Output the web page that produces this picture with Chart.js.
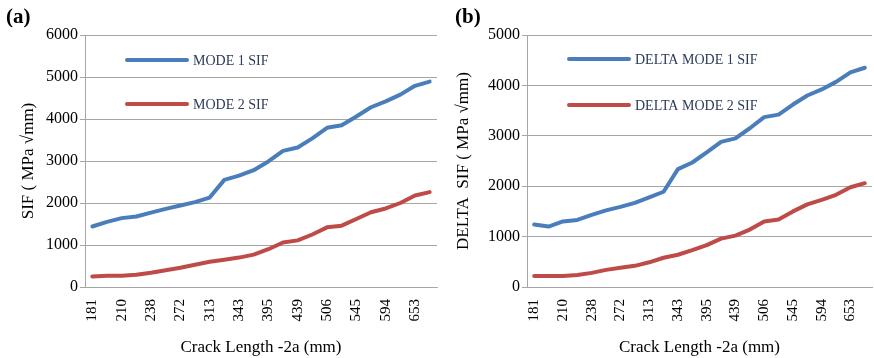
<!DOCTYPE html>
<html>
<head>
<meta charset="utf-8">
<script src="https://cdn.jsdelivr.net/npm/chart.js@4.4.1/dist/chart.umd.min.js"></script>
<style>
	html, body { margin: 0; padding: 0; background: #fff; }
	#wrap { position: relative; width: 874px; height: 358px; overflow: hidden; }
	.panel { position: absolute; top: 0; height: 358px; }
	.tag { position: absolute; top: 4px; font: bold 21px "Liberation Serif", serif; color: #000; }
</style>
</head>
<body>
<div id="wrap">
	<div class="panel" style="left:0;width:445px"><canvas id="chartA" width="445" height="358"></canvas></div>
	<div class="panel" style="left:445px;width:429px"><canvas id="chartB" width="429" height="358"></canvas></div>
	<div class="tag" style="left:6px">(a)</div>
	<div class="tag" style="left:455px">(b)</div>
</div>
<script>
(() => {
	'use strict'

	// Crack length labels (every other step is labelled on the axis)
	const tickLabels = ['181', '210', '238', '272', '313', '343', '395', '439', '506', '545', '594', '653'];

	// Stress intensity factors, MPa sqrt(mm)
	const mode1Sif = [1440, 1550, 1640, 1680, 1770, 1860, 1940, 2020, 2130, 2550, 2650, 2780,
		2990, 3240, 3320, 3540, 3790, 3850, 4060, 4280, 4420, 4580, 4790, 4890];
	const mode2Sif = [250, 270, 270, 290, 340, 400, 460, 530, 600, 650, 700, 770,
		900, 1060, 1110, 1250, 1420, 1460, 1620, 1780, 1870, 2000, 2180, 2260];

	const deltaMode1Sif = [1240, 1200, 1300, 1330, 1430, 1520, 1590, 1670, 1780, 1890, 2340, 2470,
		2670, 2880, 2950, 3150, 3370, 3420, 3620, 3800, 3920, 4070, 4260, 4350];
	const deltaMode2Sif = [220, 220, 220, 240, 280, 340, 380, 420, 490, 580, 640, 730,
		830, 960, 1020, 1140, 1300, 1340, 1500, 1640, 1730, 1830, 1980, 2060];

	// 24 steps, label on every second one
	const categories = [];
	tickLabels.forEach(l => { categories.push(l, ''); });

	const blue = '#4a7ebb';
	const red = '#be4b48';
	const gridColor = '#a6a6a6';
	const serif = '"Liberation Serif", "Times New Roman", serif';

	// Legend drawn inside the plot area, offsets relative to chartArea
	const insetLegend = {
		id: 'insetLegend',
		afterDraw(chart, args, opts) {
			const {ctx, chartArea} = chart;
			ctx.save();
			chart.data.datasets.forEach((ds, i) => {
				const y = chartArea.top + opts.rows[i];
				const x0 = chartArea.left + opts.x;
				ctx.strokeStyle = ds.borderColor;
				ctx.lineWidth = 4;
				ctx.lineCap = 'round';
				ctx.beginPath();
				ctx.moveTo(x0, y);
				ctx.lineTo(x0 + 60, y);
				ctx.stroke();
				ctx.fillStyle = '#2b3b5a';
				ctx.font = '14px ' + serif;
				ctx.textBaseline = 'middle';
				ctx.fillText(ds.label, x0 + 66, y + 1);
			});
			ctx.restore();
		}
	};

	function makeConfig(sets, yMax, yTitle, axisWidth, titlePad, rows, padRight) {
		return {
			type: 'line',
			data: {
				labels: categories,
				datasets: sets.map(s => ({
					label: s.label,
					data: s.data,
					borderColor: s.color,
					backgroundColor: s.color,
					borderWidth: 4,
					pointRadius: 0,
					tension: 0,
					borderCapStyle: 'round',
					borderJoinStyle: 'round'
				}))
			},
			options: {
				responsive: false,
				animation: false,
				layout: {
					padding: { top: 35, right: padRight, left: 0, bottom: 0 }
				},
				plugins: {
					legend: { display: false },
					tooltip: { enabled: false },
					insetLegend: { x: 42, rows: rows }
				},
				scales: {
					x: {
						offset: true,
						afterFit: (scale) => {
							scale.height = 71;
							// rotated labels need no side room
							scale.paddingLeft = 0;
							scale.paddingRight = 0;
						},
						grid: { display: false },
						border: { display: true, color: gridColor, width: 1 },
						ticks: {
							autoSkip: false,
							maxRotation: 90,
							minRotation: 90,
							padding: 4,
							color: '#000',
							font: { family: serif, size: 15 }
						},
						title: {
							display: true,
							text: 'Crack Length -2a (mm)',
							color: '#000',
							font: { family: serif, size: 17 },
							padding: { top: 0, bottom: 0 }
						}
					},
					y: {
						min: 0,
						max: yMax,
						afterFit: (scale) => { scale.width = axisWidth; },
						grid: { color: gridColor, lineWidth: 1, tickLength: 5, tickColor: gridColor },
						border: { display: true, color: gridColor, width: 1 },
						ticks: {
							stepSize: 1000,
							padding: 2,
							color: '#000',
							font: { family: serif, size: 16 },
							callback: (v) => String(v)
						},
						title: {
							display: true,
							text: yTitle,
							color: '#000',
							font: { family: serif, size: 17 },
							padding: { top: titlePad, bottom: 0 }
						}
					}
				}
			},
			plugins: [insetLegend]
		};
	}

	/******************** Chart A ********************/
	const chartA = document.getElementById('chartA');
	if (chartA) {
		new Chart(chartA, makeConfig([
			{ label: 'MODE 1 SIF', data: mode1Sif, color: blue },
			{ label: 'MODE 2 SIF', data: mode2Sif, color: red }
		], 6000, 'SIF ( MPa \u221Amm)', 85, 18, [25, 69], 8));
	}

	/******************** Chart B ********************/
	const chartB = document.getElementById('chartB');
	if (chartB) {
		new Chart(chartB, makeConfig([
			{ label: 'DELTA MODE 1 SIF', data: deltaMode1Sif, color: blue },
			{ label: 'DELTA MODE 2 SIF', data: deltaMode2Sif, color: red }
		], 5000, 'DELTA  SIF ( MPa \u221Amm)', 82, 8, [24, 70], 2));
	}
})()
</script>
</body>
</html>
